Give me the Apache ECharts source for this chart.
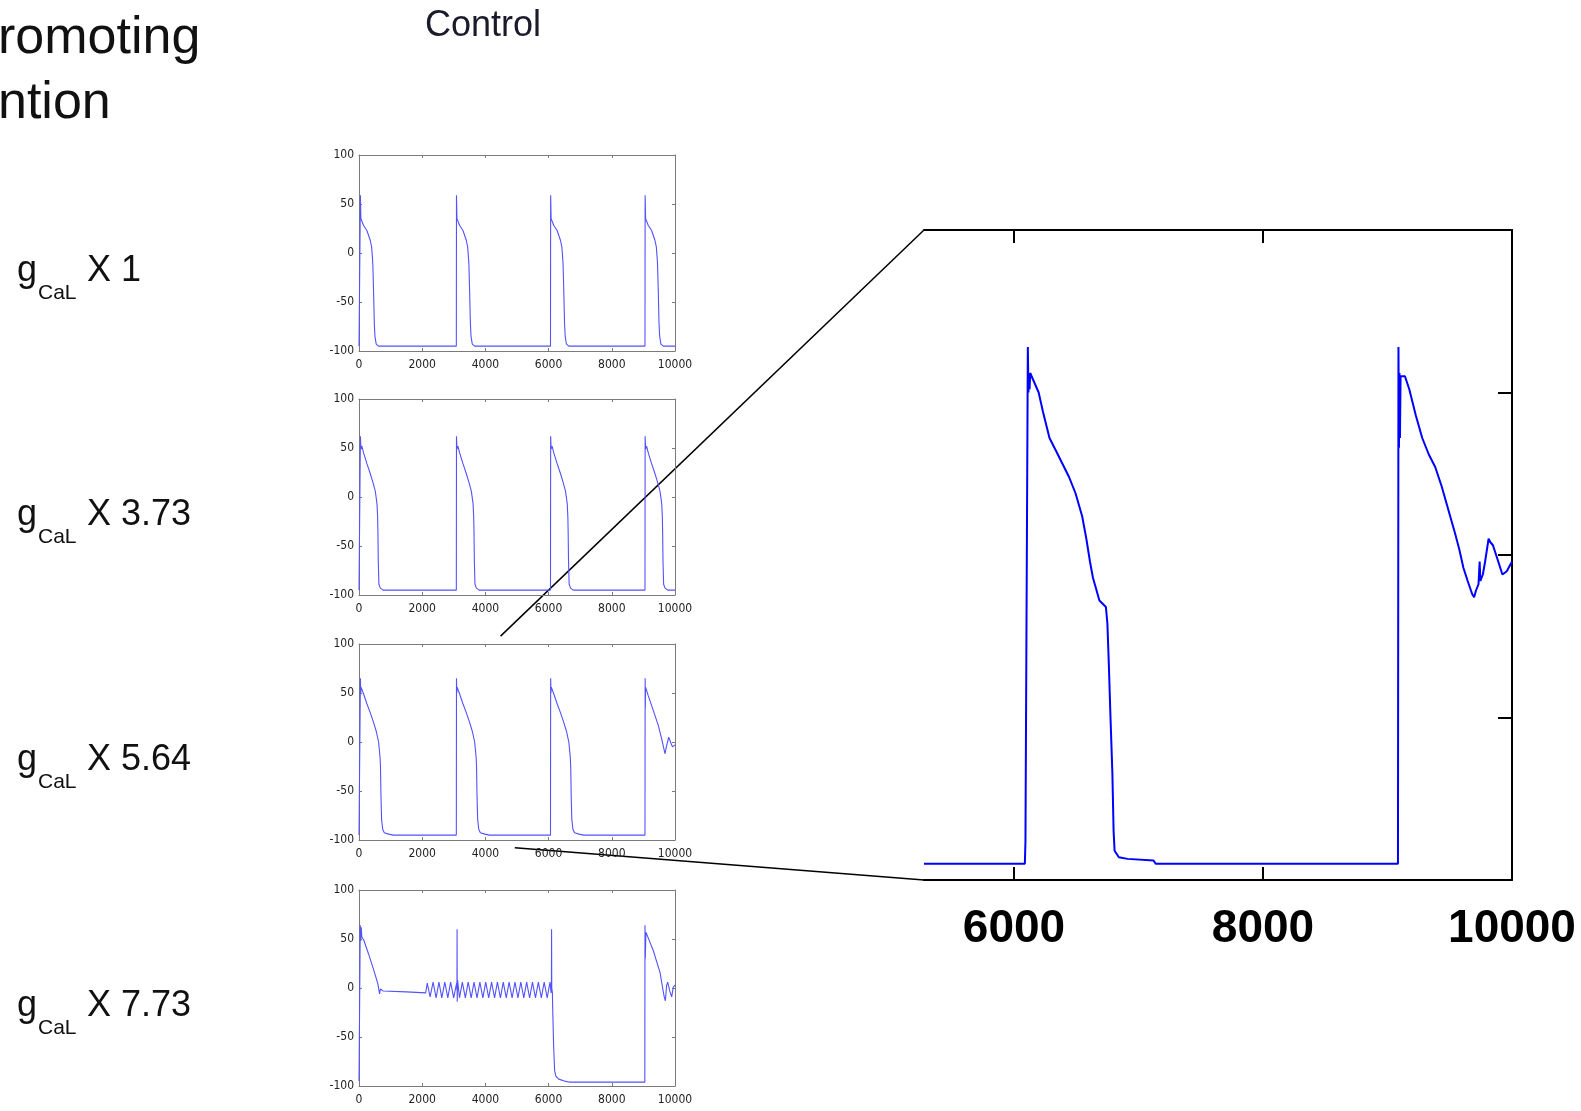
<!DOCTYPE html>
<html>
<head>
<meta charset="utf-8">
<title>gCaL action potentials</title>
<script src="https://cdn.jsdelivr.net/npm/echarts@6/dist/echarts.min.js"></script>
<style>
  html, body { margin: 0; padding: 0; background: #fff; }
  #chart { width: 1581px; height: 1111px; }
</style>
</head>
<body>
<div id="chart"></div>
<script>
// ---- values: time (ms), membrane potential (mV) ----
const panelLabels = ['1', '3.73', '5.64', '7.73'];
const zoomTicks = [6000, 8000, 10000];
const zoomRange = [5277, 10000];

// gCaL x 1 : one beat (offset from onset, mV) and the beat onsets
const beat1 = [[0, -95], [5, 59], [20, 35], [30, 37], [105, 28], [210, 23], [315, 13], [360, 6], [390, -7],
  [400, -14], [420, -38], [445, -72], [465, -85], [505, -93], [580, -95]];
const onsets1 = [40, 3080, 6060, 9050];

// gCaL x 3.73
const beat2 = [[0, -95], [5, 62], [20, 49], [50, 52], [105, 45], [210, 34], [315, 24], [400, 15], [475, 6],
  [530, -7], [550, -21], [560, -38], [570, -65], [590, -89], [635, -93], [720, -95]];
const onsets2 = [40, 3080, 6060, 9050];

// gCaL x 5.64 (last beat shows early afterdepolarisations)
const beat3 = [[0, -95], [5, 65], [15, 50], [25, 56], [105, 49], [210, 39], [315, 30], [420, 20], [505, 11],
  [580, 0], [625, -15], [640, -25], [655, -55], [675, -79], [710, -89], [760, -92.5], [900, -94], [1050, -95]];
const onsets3 = [40, 3080, 6060];
const tail3 = [[9050, -95], [9055, 65], [9060, 35], [9068, 56], [9155, 47], [9315, 32], [9470, 17], [9580, 3],
  [9685, -12], [9720, -6], [9740, -8], [9800, 5], [9870, -1], [9920, -5], [10000, -3]];

// gCaL x 7.73
const trace4 = [[0, -95], [30, -95], [40, 64], [55, 48], [70, 62], [90, 52], [150, 49], [300, 35], [450, 20],
  [600, 4], [650, -6], [680, -1], [720, -2], [760, -3], [1500, -4], [2110, -5],
  [2160, 5], [2250, -9], [2345, 6], [2440, -10], [2530, 6], [2620, -10], [2715, 6], [2810, -10], [2900, 6],
  [2995, -10], [3090, 5], [3100, -2], [3104, 60], [3108, -14], [3120, 8], [3180, -10], [3270, 6], [3365, -10],
  [3455, 6], [3550, -10], [3640, 6], [3735, -10], [3825, 6], [3920, -10], [4010, 6], [4105, -10], [4195, 6],
  [4290, -10], [4380, 6], [4475, -10], [4565, 6], [4660, -10], [4750, 6], [4845, -10], [4935, 6], [5030, -10],
  [5120, 6], [5215, -10], [5305, 6], [5400, -10], [5490, 6], [5585, -10], [5675, 6], [5770, -10], [5860, 6],
  [5955, -10], [6045, 6], [6080, -5], [6090, 5], [6094, 60], [6100, 0], [6120, -5], [6135, -28], [6160, -60],
  [6190, -84], [6230, -90], [6320, -93], [6500, -95], [6650, -96], [9045, -96], [9050, 64], [9060, 30],
  [9080, 57], [9110, 55], [9314, 38], [9525, 16], [9652, -8], [9694, -13], [9736, 3], [9768, 6], [9842, -4],
  [9895, -9], [9947, 1], [10000, 3]];

// enlarged view of the gCaL x 5.64 trace
const zoomTrace = [[5277, -95], [6087, -95], [6092, -88], [6106, -88], [6111, 64], [6116, 50], [6120, 56],
  [6125, 51], [6130, 56], [6164, 53], [6198, 50], [6233, 44], [6285, 36], [6338, 32], [6390, 28], [6442, 24],
  [6494, 19], [6547, 12], [6581, 5], [6610, -2], [6634, -7], [6686, -14], [6738, -16], [6750, -21],
  [6762, -34], [6775, -50], [6790, -67], [6800, -85], [6808, -91], [6842, -93], [6912, -93.5], [7121, -94],
  [7138, -95], [9084, -95], [9088, 64], [9092, 33], [9096, 56], [9100, 36], [9105, 55], [9140, 55],
  [9175, 51], [9227, 43], [9279, 36], [9331, 31], [9384, 27], [9436, 21], [9488, 14], [9540, 7], [9575, 2],
  [9610, -4], [9644, -8], [9680, -12], [9696, -13], [9710, -11], [9731, -9], [9740, -2], [9746, -8],
  [9766, -6], [9784, -2], [9812, 5], [9825, 4], [9847, 3], [9881, -1], [9923, -6], [9958, -5], [10000, -2]];

// ---- build traces from the beats ----
function buildTrace(onsets, beat, tail) {
  const pts = [[0, -95]];
  onsets.forEach(function(t0) {
    beat.forEach(function(p) { pts.push([t0 + p[0], p[1]]); });
  });
  if (tail) tail.forEach(function(p) { pts.push(p); });
  else pts.push([10000, -95]);
  return pts;
}
const traces = [
  buildTrace(onsets1, beat1),
  buildTrace(onsets2, beat2),
  buildTrace(onsets3, beat3, tail3),
  trace4
];

// ---- layout ----
const panelTops = [155, 399, 644, 890];
const panelLeft = 359, panelWidth = 316, panelHeight = 196;
const greyAxis = '#7a7a7a';
const smallFont = '"Liberation Sans Narrow", "DejaVu Sans Condensed", "Liberation Sans", sans-serif';
const mainFont = '"Liberation Sans", Arial, sans-serif';
const plain = function(v) { return String(v); };

const grids = [], xAxes = [], yAxes = [], series = [];

panelTops.forEach(function(top, i) {
  grids.push({ left: panelLeft, top: top, width: panelWidth, height: panelHeight });
  const line = { show: true, onZero: false, lineStyle: { color: greyAxis, width: 1 } };
  const tick = { show: true, inside: true, length: 3, lineStyle: { color: greyAxis } };
  xAxes.push({
    gridIndex: i, type: 'value', position: 'bottom', min: 0, max: 10000, interval: 2000,
    axisLine: line, axisTick: tick, splitLine: { show: false },
    axisLabel: { fontSize: 12, color: '#222', margin: 8, fontFamily: smallFont, formatter: plain }
  });
  xAxes.push({
    gridIndex: i, type: 'value', position: 'top', min: 0, max: 10000, interval: 2000,
    axisLine: line, axisTick: tick, splitLine: { show: false }, axisLabel: { show: false }
  });
  yAxes.push({
    gridIndex: i, type: 'value', position: 'left', min: -100, max: 100, interval: 50,
    axisLine: line, axisTick: tick, splitLine: { show: false },
    axisLabel: { fontSize: 12, color: '#222', margin: 5, fontFamily: smallFont, formatter: plain }
  });
  yAxes.push({
    gridIndex: i, type: 'value', position: 'right', min: -100, max: 100, interval: 50,
    axisLine: line, axisTick: tick, splitLine: { show: false }, axisLabel: { show: false }
  });
  series.push({
    type: 'line', xAxisIndex: 2 * i, yAxisIndex: 2 * i, data: traces[i],
    showSymbol: false, symbol: 'none', lineStyle: { color: '#5252ff', width: 1.1 }
  });
});

// big enlarged panel
grids.push({ left: 924, top: 230, width: 588, height: 650 });
const bigLine = { show: true, onZero: false, lineStyle: { color: '#000', width: 2 } };
const bigTick = { show: true, inside: true, length: 13, customValues: zoomTicks, lineStyle: { color: '#000', width: 2 } };
xAxes.push({
  gridIndex: 4, type: 'value', position: 'bottom', min: zoomRange[0], max: zoomRange[1],
  axisLine: bigLine, axisTick: bigTick, splitLine: { show: false },
  axisLabel: {
    customValues: zoomTicks, fontSize: 46, fontWeight: 'bold', color: '#000', margin: 26,
    fontFamily: mainFont, formatter: plain
  }
});
xAxes.push({
  gridIndex: 4, type: 'value', position: 'top', min: zoomRange[0], max: zoomRange[1],
  axisLine: bigLine, axisTick: bigTick, splitLine: { show: false }, axisLabel: { show: false }
});
yAxes.push({
  gridIndex: 4, type: 'value', position: 'right', min: -100, max: 100, interval: 50,
  axisLine: bigLine,
  axisTick: { show: true, inside: true, length: 14, lineStyle: { color: '#000', width: 2 } },
  splitLine: { show: false }, axisLabel: { show: false }
});
series.push({
  type: 'line', xAxisIndex: 8, yAxisIndex: 8, data: zoomTrace,
  showSymbol: false, symbol: 'none', lineStyle: { color: '#0000ff', width: 2 }
});

const chart = echarts.init(document.getElementById('chart'));
chart.setOption({
  animation: false,
  backgroundColor: '#fff',
  grid: grids,
  xAxis: xAxes,
  yAxis: yAxes,
  series: series
});

// ---- texts and connector lines ----
function txt(x, y, text, size, align, color, weight) {
  return {
    type: 'text', silent: true,
    style: {
      x: x, y: y, text: text, fill: color || '#111',
      font: (weight || 'normal') + ' ' + size + 'px ' + mainFont,
      align: align || 'left', verticalAlign: 'middle',
      textAlign: align || 'left', textVerticalAlign: 'middle'
    }
  };
}
const graphics = [
  txt(-2, 39, 'romoting', 52),
  txt(-2, 104, 'ntion', 52),
  txt(483, 26, 'Control', 36, 'center', '#1a1a2a')
];
panelTops.forEach(function(top, i) {
  const y = top + 116;
  graphics.push(txt(17, y, 'g', 36));
  graphics.push(txt(38, y + 22, 'CaL', 21));
  graphics.push(txt(87, y, 'X ' + panelLabels[i], 36));
});

const p1 = chart.convertToPixel({ gridIndex: 2 }, [4480, 108]);
const p2 = chart.convertToPixel({ gridIndex: 2 }, [4930, -108]);
const q1 = chart.convertToPixel({ gridIndex: 4 }, [zoomRange[0], 100]);
const q2 = chart.convertToPixel({ gridIndex: 4 }, [zoomRange[0], -100]);
[[p1, q1], [p2, q2]].forEach(function(seg) {
  graphics.push({
    type: 'line', silent: true,
    shape: { x1: seg[0][0], y1: seg[0][1], x2: seg[1][0], y2: seg[1][1] },
    style: { stroke: '#000', lineWidth: 1.5 }
  });
});
chart.setOption({ graphic: graphics });

window.addEventListener('resize', function() { chart.resize(); });
</script>
</body>
</html>
